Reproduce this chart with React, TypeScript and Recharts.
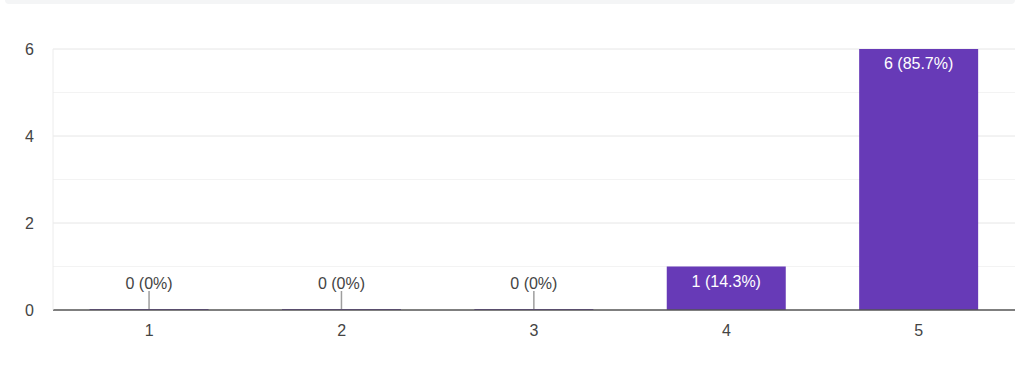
import { BarChart, Bar, XAxis, YAxis, CartesianGrid, LabelList } from "recharts";

// ratings 1..5 and how many responses each got
const ratings = ["1", "2", "3", "4", "5"];
const counts = [0, 0, 0, 1, 6];
const majorTicks = [0, 2, 4, 6];
const minorTicks = [1, 3, 5];

const total = counts.reduce((a, b) => a + b, 0);
const chartData = ratings.map((r, i) => ({ rating: r, count: counts[i] }));

const fmt = (v: number) => {
    const pct = total ? Math.round((v / total) * 1000) / 10 : 0;
    return `${v} (${pct}%)`;
};

// y pixel for a value, using the axis scale when it is passed in
const gridGen = (vals: number[]) => (p: any) => {
    const sc = p?.yAxis?.scale;
    if (typeof sc === "function") return vals.map((v) => sc(v));
    const { top, height } = p.offset;
    return vals.map((v) => top + height * (1 - v / 6));
};

const BarLabel = (props: any) => {
    const { x, y, width, value } = props;
    const cx = x + width / 2;
    if (!value) {
        return (
            <g>
                <line x1={cx} x2={cx} y1={y - 18} y2={y} stroke="#9e9e9e" strokeWidth={1.5} />
                <text x={cx} y={y - 20} textAnchor="middle" fill="#444" fontSize={16}>
                    {fmt(value)}
                </text>
            </g>
        );
    }
    return (
        <text x={cx} y={y + 20} textAnchor="middle" fill="#ffffff" fontSize={16}>
            {fmt(value)}
        </text>
    );
};

export default function App() {
    return (
        <div style={{ position: "absolute", left: 0, top: 0, width: 1023, height: 365, background: "#fff", fontFamily: "'Liberation Sans', Arial, sans-serif" }}>
            <div style={{ position: "absolute", left: 5, top: 0, width: 1010, height: 4, background: "#f4f5f6", borderRadius: "0 0 6px 6px" }} />
            <BarChart
                width={1023}
                height={365}
                data={chartData}
                margin={{ top: 49, right: 8, bottom: 25, left: 8 }}
                barCategoryGap="19%"
            >
                <CartesianGrid vertical={false} stroke="#f3f3f3" horizontalCoordinatesGenerator={gridGen(minorTicks)} />
                <CartesianGrid vertical={false} stroke="#e6e6e6" horizontalCoordinatesGenerator={gridGen(majorTicks.filter((t) => t > 0))} />
                <XAxis
                    dataKey="rating"
                    tickLine={false}
                    axisLine={{ stroke: "#555", strokeWidth: 1.5 }}
                    tick={{ fill: "#444", fontSize: 16 }}
                    tickMargin={9}
                />
                <YAxis
                    width={45}
                    domain={[0, 6]}
                    ticks={majorTicks}
                    tickLine={false}
                    axisLine={{ stroke: "#ececec" }}
                    tick={{ fill: "#444", fontSize: 16 }}
                    tickMargin={13}
                />
                <Bar dataKey="count" fill="#673ab7" isAnimationActive={false} minPointSize={1}>
                    <LabelList dataKey="count" content={BarLabel} />
                </Bar>
            </BarChart>
        </div>
    );
}
